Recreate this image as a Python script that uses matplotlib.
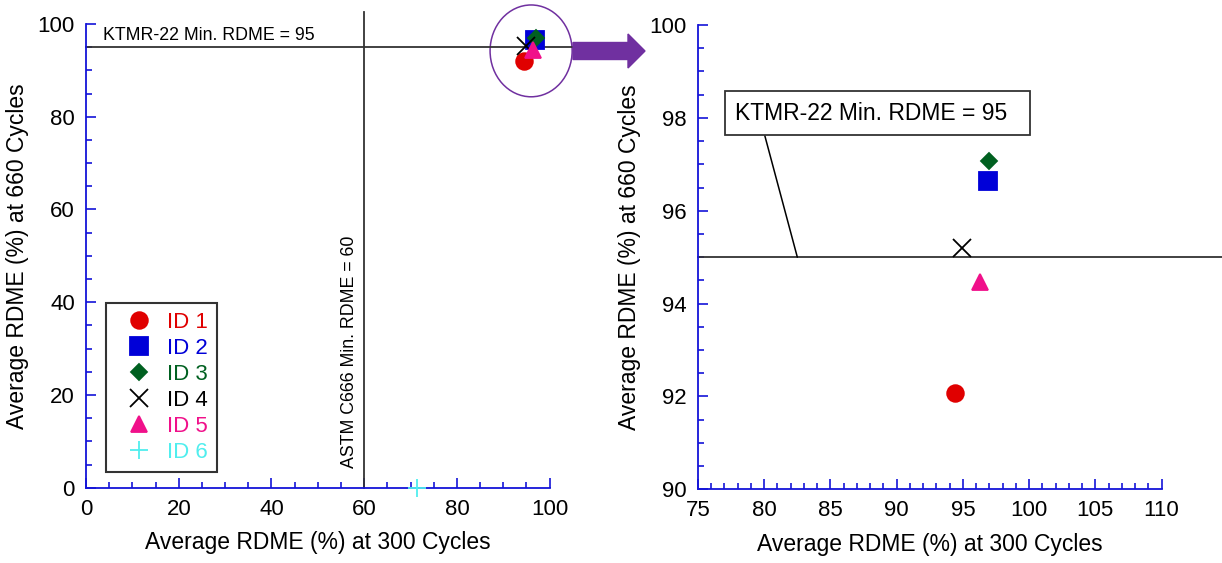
import matplotlib
matplotlib.use("Agg")
import matplotlib.pyplot as plt
from matplotlib.patches import Ellipse, FancyArrow
from matplotlib.ticker import MultipleLocator

plt.rcParams["font.family"] = ["Liberation Sans", "DejaVu Sans"]

# Average RDME (%) values
ids = ["ID 1", "ID 2", "ID 3", "ID 4", "ID 5", "ID 6"]
rdme_300 = [94.4, 96.9, 97.0, 94.9, 96.3, 71.4]
rdme_660 = [92.07, 96.63, 97.07, 95.19, 94.47, 0.0]

ktmr_min = 95
astm_min = 60

colors = ["#e00000", "#0000d8", "#006020", "#000000", "#f0108a", "#50eeee"]
markers = ["o", "s", "D", "x", "^", "+"]
msizes = [12, 13.5, 8.5, 13, 12, 13]

spine_blue = "#1414d8"
line_col = "#333333"
purple = "#7030a0"

fig = plt.figure(figsize=(12.22, 5.63), dpi=100)
ax1 = fig.add_axes([0.0704, 0.1337, 0.3794, 0.8237])
ax2 = fig.add_axes([0.5712, 0.1309, 0.3793, 0.8247])


def style_axes(ax, xmaj, xmin, ymaj, ymin):
    for s in ["top", "right"]:
        ax.spines[s].set_visible(False)
    for s in ["left", "bottom"]:
        ax.spines[s].set_color(spine_blue)
        ax.spines[s].set_linewidth(1.3)
    ax.xaxis.set_major_locator(MultipleLocator(xmaj))
    ax.xaxis.set_minor_locator(MultipleLocator(xmin))
    ax.yaxis.set_major_locator(MultipleLocator(ymaj))
    ax.yaxis.set_minor_locator(MultipleLocator(ymin))
    ax.tick_params(which="both", direction="in", color=spine_blue,
                   labelcolor="black", labelsize=16, pad=8, width=1.2)
    ax.tick_params(which="major", length=7)
    ax.tick_params(which="minor", length=4)
    ax.set_xlabel("Average RDME (%) at 300 Cycles", fontsize=16.5, labelpad=8)
    ax.set_ylabel("Average RDME (%) at 660 Cycles", fontsize=16.5, labelpad=6)


def plot_points(ax, clip):
    for i in range(len(ids)):
        ax.plot(rdme_300[i], rdme_660[i], linestyle="none", marker=markers[i],
                markersize=msizes[i], color=colors[i], markeredgecolor=colors[i],
                markeredgewidth=1.3, label=ids[i], clip_on=clip, zorder=5)


# ---- left: full range ----
plot_points(ax1, clip=False)
ax1.set_xlim(0, 100)
ax1.set_ylim(0, 100)
style_axes(ax1, 20, 5, 20, 5)

ax1.plot([0, 105], [ktmr_min, ktmr_min], color=line_col, lw=1.3, clip_on=False, zorder=2)
ax1.plot([astm_min, astm_min], [0, 102.6], color=line_col, lw=1.3, clip_on=False, zorder=2)
ax1.text(3.7, 97.6, "KTMR-22 Min. RDME = 95", fontsize=12.8, va="center")
ax1.text(56.8, 4.2, "ASTM C666 Min. RDME = 60", fontsize=12.8, rotation=90,
         ha="center", va="bottom")
ax1.add_patch(Ellipse((96, 94.2), 17.7, 19.8, fill=False, edgecolor=purple,
                      lw=1.1, clip_on=False))

leg = ax1.legend(loc="lower left", bbox_to_anchor=(0.043, 0.034), borderaxespad=0,
                 fontsize=16, frameon=True, fancybox=False, handlelength=2.2,
                 handletextpad=0.15, labelspacing=0.23, borderpad=0.4)
leg.get_frame().set_edgecolor("black")
leg.get_frame().set_linewidth(1.5)
for txt, c in zip(leg.get_texts(), colors):
    txt.set_color(c)

# ---- right: zoomed in ----
plot_points(ax2, clip=True)
ax2.set_xlim(75, 110)
ax2.set_ylim(90, 100)
style_axes(ax2, 5, 1, 2, 0.5)

ax2.plot([75, 114.6], [ktmr_min, ktmr_min], color=line_col, lw=1.3, clip_on=False, zorder=2)
ax2.annotate("KTMR-22 Min. RDME = 95  ", xy=(82.5, ktmr_min), xytext=(77.8, 98.1),
             fontsize=16.5, va="center", ha="left",
             bbox=dict(boxstyle="square,pad=0.45", fc="white", ec=line_col, lw=1.3),
             arrowprops=dict(arrowstyle="-", color="black", lw=1.1,
                             relpos=(0.094, 0), shrinkA=0, shrinkB=0))

# purple arrow between the two panels
arrow = FancyArrow(5.73, 5.12, 0.72, 0, width=0.17, head_width=0.34,
                   head_length=0.17, length_includes_head=True,
                   color=purple, transform=fig.dpi_scale_trans)
fig.add_artist(arrow)

fig.savefig("out.png", dpi=100)
